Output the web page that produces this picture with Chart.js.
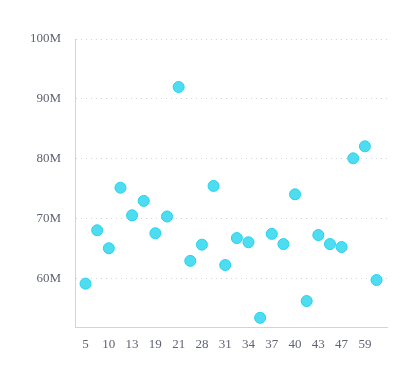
<!DOCTYPE html>
<html>
<head>
<meta charset="utf-8">
<script src="https://cdn.jsdelivr.net/npm/chart.js@4.4.1/dist/chart.umd.min.js"></script>
<style>
html,body{margin:0;padding:0;background:#fff;}
#c{display:block;}
</style>
</head>
<body>
<canvas id="c" width="415" height="378"></canvas>
<script>
const categories = ['5','8','10','12','13','16','19','20','21','25','28','30','31','33','34','35','37','38','40','42','43','45','47','52','59','62'];
const values = [59.2, 68.1, 65.1, 75.2, 70.6, 73.0, 67.6, 70.4, 92.0, 63.0, 65.7, 75.5, 62.3, 66.8, 66.1, 53.5, 67.5, 65.8, 74.1, 56.3, 67.3, 65.8, 65.3, 80.1, 82.1, 59.8];
const yTickValues = [60, 70, 80, 90, 100];

const points = values.map((v, i) => ({ x: i, y: v * 1e6 }));
const fontSpec = { family: '"Liberation Serif", "DejaVu Serif", serif', size: 13 };

new Chart(document.getElementById('c'), {
  type: 'scatter',
  data: {
    datasets: [{
      data: points,
      backgroundColor: 'rgba(34,211,238,0.8)',
      borderColor: 'rgba(34,211,238,1)',
      borderWidth: 1,
      pointRadius: 5.5,
      pointHoverRadius: 5.5
    }]
  },
  options: {
    responsive: false,
    animation: false,
    layout: { padding: { left: 16, right: 28, top: 39, bottom: 17 } },
    plugins: { legend: { display: false }, tooltip: { enabled: false } },
    scales: {
      x: {
        type: 'linear',
        min: -0.9,
        max: 25.9,
        afterBuildTicks: (scale) => {
          scale.ticks = categories.map((c, i) => ({ value: i })).filter((t, i) => i % 2 === 0);
        },
        ticks: {
          callback: (v) => categories[v],
          color: '#5f6473',
          font: fontSpec,
          padding: 9,
          maxRotation: 0,
          autoSkip: false
        },
        grid: { display: false, drawTicks: false },
        border: { display: true, color: '#d1d5db', width: 1 }
      },
      y: {
        min: 51.9e6,
        max: 100e6,
        afterBuildTicks: (scale) => {
          scale.ticks = yTickValues.map(v => ({ value: v * 1e6 }));
        },
        ticks: {
          callback: (v) => (v / 1e6) + 'M',
          color: '#5f6473',
          font: fontSpec,
          padding: 14
        },
        grid: { color: '#d1d5db', drawTicks: false, lineWidth: 1 },
        border: { display: true, color: '#d1d5db', width: 1, dash: [1, 4] }
      }
    }
  }
});
</script>
</body>
</html>
